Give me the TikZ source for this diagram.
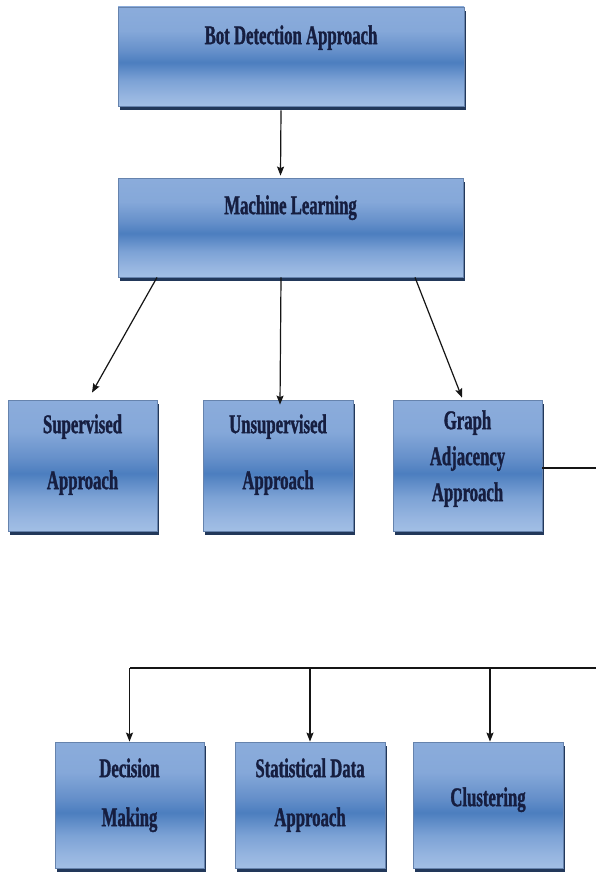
\documentclass[tikz,border=0pt]{standalone}
\usepackage{fontspec}
\usetikzlibrary{arrows.meta,shadows}
\newfontfamily\boxfont{Liberation Serif}[FakeStretch=0.62,FakeBold=1.2]

\definecolor{edgebot}{HTML}{A2BFE5}
\definecolor{lowband}{HTML}{96B5E0}
\definecolor{lowmid}{HTML}{7CA2D5}
\definecolor{deepband}{HTML}{4C7EBF}
\definecolor{uppmid}{HTML}{6690CA}
\definecolor{upper}{HTML}{85A8D9}
\definecolor{edgetop}{HTML}{8BACDB}
\definecolor{boxedge}{HTML}{6683AD}
\definecolor{boxshade}{HTML}{22385A}
\definecolor{txt}{HTML}{161E40}
\definecolor{wire}{HTML}{151515}

% vertical fill of the boxes: light at both edges, deep blue just above the middle
\pgfdeclareverticalshading{boxfill}{100bp}{%
  color(0bp)=(edgebot); color(25bp)=(edgebot); color(30bp)=(lowband);
  color(38bp)=(lowmid); color(47bp)=(deepband); color(53bp)=(uppmid);
  color(63bp)=(upper); color(75bp)=(edgetop); color(100bp)=(edgetop)}

\tikzset{
  box/.style={draw=boxedge, line width=0.8pt, rectangle, inner sep=0pt,
    shading=boxfill,
    general shadow={fill=boxshade, shadow xshift=2pt, shadow yshift=-4pt}},
  lbl/.style={font=\boxfont\bfseries\fontsize{27}{#1}\selectfont, text=txt,
    align=center, inner sep=0pt, anchor=north},
  wireline/.style={draw=wire, line width=1.2pt},
  arr/.style={wireline, -{Stealth[length=9pt,width=7pt,inset=1.5pt]}}
}

\begin{document}
\begin{tikzpicture}[x=1pt, y=-1pt]
  \useasboundingbox (0,0) rectangle (596,875);
  \fill[white] (0,0) rectangle (596,875);

  % top level
  \node[box, minimum width=346pt, minimum height=99pt] (bot) at (291,56.5) {};
  \node[lbl=30] (bot-t) at ([yshift=-18.6pt]bot.north) {Bot Detection Approach};

  \node[box, minimum width=345pt, minimum height=99pt] (ml) at (290.5,227.5) {};
  \node[lbl=30] (ml-t) at ([yshift=-17.6pt]ml.north) {Machine Learning};

  % second level
  \node[box, minimum width=149pt, minimum height=131pt] (sup) at (82.5,465.5) {};
  \node[lbl=56] (sup-t) at ([yshift=-14.6pt]sup.north) {Supervised\\Approach};

  \node[box, minimum width=150pt, minimum height=131pt] (uns) at (278,465.5) {};
  \node[lbl=56] (uns-t) at ([yshift=-14.6pt]uns.north) {Unsupervised\\Approach};

  \node[box, minimum width=149pt, minimum height=131pt] (gra) at (467.5,465.5) {};
  \node[lbl=36] (gra-t) at ([yshift=-10.6pt]gra.north) {Graph\\Adjacency\\Approach};

  % third level
  \node[box, minimum width=149pt, minimum height=126pt] (dec) at (129.5,805) {};
  \node[lbl=49] (dec-t) at ([yshift=-16.6pt]dec.north) {Decision\\Making};

  \node[box, minimum width=150pt, minimum height=126pt] (sta) at (310,805) {};
  \node[lbl=49] (sta-t) at ([yshift=-16.6pt]sta.north) {Statistical Data\\Approach};

  \node[box, minimum width=150pt, minimum height=126pt] (clu) at (488,805) {};
  \node[lbl=30] (clu-t) at ([yshift=-45.6pt]clu.north) {Clustering};

  % connectors
  \draw[arr] ([xshift=-10pt,yshift=-4pt]bot.south) -- ([xshift=-10pt,yshift=2pt]ml.north);

  \draw[arr] ([xshift=-133.5pt]ml.south) -- ([xshift=9.5pt,yshift=7pt]sup.north);
  \draw[arr] ([xshift=-9.5pt]ml.south) -- ([xshift=2pt,yshift=-5pt]uns.north);
  \draw[arr] ([xshift=124.5pt]ml.south) -- ([xshift=-5.5pt,yshift=2pt]gra.north);

  \coordinate (busR) at (600,668);
  \draw[wireline] ([yshift=-2.5pt]gra.east) -| (busR) -- (dec.north |- busR);
  \draw[arr] (dec.north |- busR) -- (dec.north);
  \draw[arr] (sta.north |- busR) -- (sta.north);
  \draw[arr] ([xshift=2pt]clu.north |- busR) -- ([xshift=2pt]clu.north);
\end{tikzpicture}
\end{document}
